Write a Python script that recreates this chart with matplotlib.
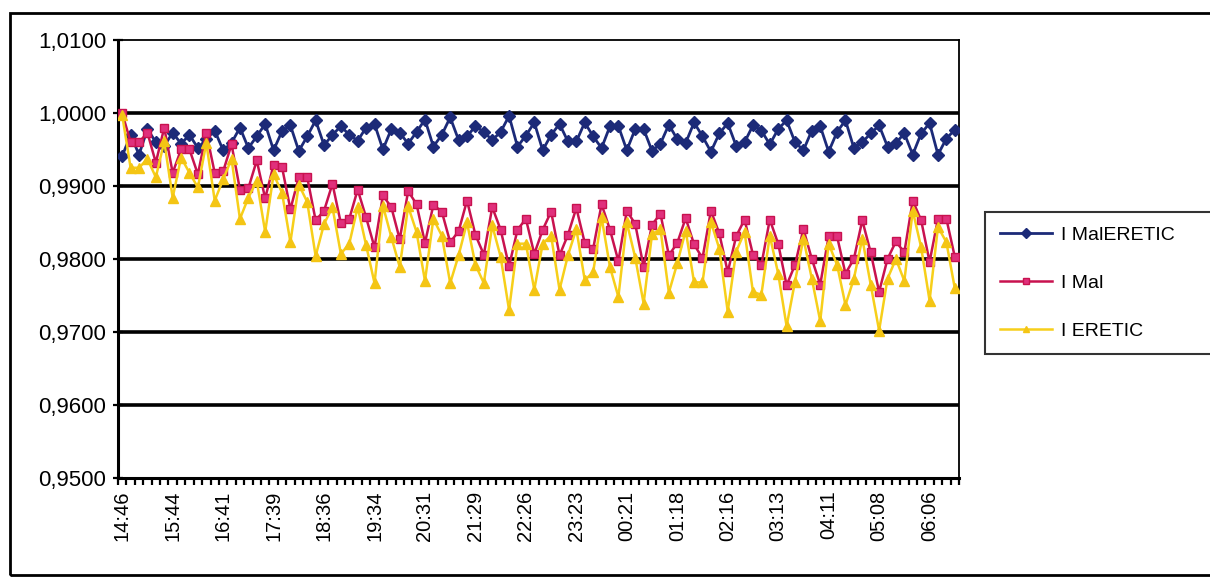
#!/usr/bin/env python3
# -*- coding: utf-8 -*-

# Ratios I MalERETIC / I Mal / I ERETIC over one night (Excel-style chart)

import matplotlib
matplotlib.use("Agg")
import matplotlib.pyplot as plt
import matplotlib as mpl
from matplotlib.ticker import FixedLocator, FuncFormatter
from matplotlib.patches import Rectangle

mpl.rcParams['font.family'] = ['Liberation Sans', 'DejaVu Sans']

# Data (one point every ~9.6 min)
tick_labels = ['14:46', '15:44', '16:41', '17:39', '18:36', '19:34', '20:31',
               '21:29', '22:26', '23:23', '00:21', '01:18', '02:16', '03:13',
               '04:11', '05:08', '06:06']

i_maleretic = [
    0.9941, 0.9970, 0.9943, 0.9978, 0.9960, 0.9955, 0.9973, 0.9958, 0.9970, 0.9952,
    0.9964, 0.9976, 0.9949, 0.9959, 0.9980, 0.9952, 0.9968, 0.9985, 0.9949, 0.9975,
    0.9983, 0.9948, 0.9968, 0.9990, 0.9956, 0.9970, 0.9982, 0.9970, 0.9962, 0.9980,
    0.9985, 0.9950, 0.9978, 0.9973, 0.9958, 0.9974, 0.9991, 0.9954, 0.9970, 0.9994,
    0.9963, 0.9968, 0.9982, 0.9974, 0.9963, 0.9974, 0.9996, 0.9954, 0.9969, 0.9987,
    0.9949, 0.9970, 0.9985, 0.9961, 0.9961, 0.9987, 0.9968, 0.9952, 0.9982, 0.9982,
    0.9949, 0.9978, 0.9978, 0.9948, 0.9958, 0.9984, 0.9964, 0.9959, 0.9987, 0.9968,
    0.9947, 0.9972, 0.9986, 0.9955, 0.9960, 0.9983, 0.9976, 0.9957, 0.9978, 0.9990,
    0.9960, 0.9949, 0.9976, 0.9982, 0.9947, 0.9974, 0.9990, 0.9952, 0.9960, 0.9972,
    0.9983, 0.9954, 0.9959, 0.9972, 0.9943, 0.9972, 0.9986, 0.9943, 0.9965, 0.9977,
]

i_mal = [
    1.0000, 0.9960, 0.9960, 0.9973, 0.9932, 0.9980, 0.9918, 0.9950, 0.9950, 0.9916,
    0.9973, 0.9918, 0.9920, 0.9957, 0.9895, 0.9897, 0.9935, 0.9883, 0.9929, 0.9926,
    0.9868, 0.9912, 0.9912, 0.9853, 0.9866, 0.9903, 0.9849, 0.9855, 0.9895, 0.9857,
    0.9816, 0.9887, 0.9871, 0.9827, 0.9893, 0.9875, 0.9822, 0.9874, 0.9865, 0.9823,
    0.9838, 0.9880, 0.9833, 0.9806, 0.9871, 0.9840, 0.9790, 0.9840, 0.9855, 0.9807,
    0.9840, 0.9865, 0.9805, 0.9833, 0.9870, 0.9822, 0.9814, 0.9875, 0.9840, 0.9797,
    0.9866, 0.9848, 0.9789, 0.9847, 0.9862, 0.9805, 0.9822, 0.9856, 0.9820, 0.9801,
    0.9866, 0.9835, 0.9782, 0.9831, 0.9854, 0.9806, 0.9792, 0.9854, 0.9821, 0.9764,
    0.9792, 0.9841, 0.9800, 0.9765, 0.9831, 0.9831, 0.9780, 0.9800, 0.9853, 0.9809,
    0.9755, 0.9800, 0.9824, 0.9809, 0.9880, 0.9853, 0.9796, 0.9855, 0.9855, 0.9803,
]

i_eretic = [
    0.9997, 0.9925, 0.9925, 0.9937, 0.9912, 0.9961, 0.9884, 0.9939, 0.9918, 0.9898,
    0.9959, 0.9880, 0.9909, 0.9937, 0.9855, 0.9884, 0.9907, 0.9837, 0.9916, 0.9891,
    0.9823, 0.9902, 0.9878, 0.9804, 0.9848, 0.9871, 0.9807, 0.9821, 0.9871, 0.9819,
    0.9767, 0.9873, 0.9830, 0.9789, 0.9872, 0.9837, 0.9770, 0.9855, 0.9832, 0.9767,
    0.9805, 0.9850, 0.9792, 0.9767, 0.9846, 0.9803, 0.9730, 0.9821, 0.9821, 0.9758,
    0.9821, 0.9832, 0.9758, 0.9805, 0.9841, 0.9771, 0.9782, 0.9857, 0.9789, 0.9748,
    0.9850, 0.9802, 0.9739, 0.9834, 0.9841, 0.9754, 0.9794, 0.9839, 0.9768, 0.9768,
    0.9851, 0.9814, 0.9728, 0.9810, 0.9837, 0.9755, 0.9751, 0.9832, 0.9780, 0.9708,
    0.9769, 0.9828, 0.9773, 0.9715, 0.9821, 0.9792, 0.9737, 0.9773, 0.9828, 0.9765,
    0.9702, 0.9773, 0.9800, 0.9770, 0.9866, 0.9816, 0.9743, 0.9844, 0.9823, 0.9760,
]

label_step = 6


if __name__ == "__main__":

    fig = plt.figure(figsize=(12.1, 5.77), dpi=100)
    ax = fig.add_axes([118/1210, 1-478/577, (959-118)/1210, (478-40)/577])

    n = len(i_mal)
    x = list(range(n))

    ax.plot(x, i_maleretic, color='#1c2a78', lw=2.0, marker='D', ms=6,
            mfc='#1c2a78', mec='#1c2a78', label='I MalERETIC', zorder=3)
    ax.plot(x, i_mal, color='#c8124f', lw=1.8, marker='s', ms=5.5,
            mfc='#e0307c', mec='#c8124f', label='I Mal', zorder=4)
    ax.plot(x, i_eretic, color='#f7cf1a', lw=1.8, marker='^', ms=6.5,
            mfc='#f4c514', mec='#f4c514', label='I ERETIC', zorder=5)

    # axes: Excel category axis, points in the middle of the categories
    ax.set_xlim(-0.5, n - 0.5)
    ax.set_ylim(0.95, 1.01)

    ax.xaxis.set_major_locator(FixedLocator(range(0, n, label_step)))
    ax.set_xticklabels(tick_labels, rotation=90, fontsize=14.5)
    ax.xaxis.set_minor_locator(FixedLocator([i - 0.5 for i in range(n + 1)]))
    ax.tick_params(axis='x', which='major', length=0, pad=9)
    ax.tick_params(axis='x', which='minor', length=5, width=1.6, direction='out')

    ax.set_yticks([0.95, 0.96, 0.97, 0.98, 0.99, 1.00, 1.01])
    ax.yaxis.set_major_formatter(FuncFormatter(lambda v, p: f"{v:.4f}".replace('.', ',')))
    ax.tick_params(axis='y', length=7, width=1.6, direction='inout', labelsize=16, pad=5)

    for yv in [0.96, 0.97, 0.98, 0.99, 1.00]:
        ax.axhline(yv, color='black', lw=2.6, zorder=1)

    for s in ['left', 'bottom']:
        ax.spines[s].set_linewidth(2.2)
    for s in ['right', 'top']:
        ax.spines[s].set_linewidth(1.3)
    for s in ax.spines.values():
        s.set_color('black')

    # legend box runs past the right edge of the picture, as in the scan
    leg = ax.legend(loc='upper left', mode='expand',
                    bbox_to_anchor=(985/1210, 1-212/577, 245/1210, 0),
                    bbox_transform=fig.transFigure, fontsize=14, frameon=True,
                    fancybox=False, edgecolor='black', handlelength=2.7,
                    borderpad=0.75, labelspacing=1.55, handletextpad=0.45,
                    borderaxespad=0)
    leg.get_frame().set_linewidth(1.5)
    for h in leg.legend_handles:
        h.set_markersize(5)

    # outer chart frame (right side is outside the scan)
    fig.patches.append(Rectangle((10/1210, 2/577), 1215/1210, 562/577, fill=False,
                                 edgecolor='black', lw=2, transform=fig.transFigure))

    fig.savefig('out.png', dpi=100)
